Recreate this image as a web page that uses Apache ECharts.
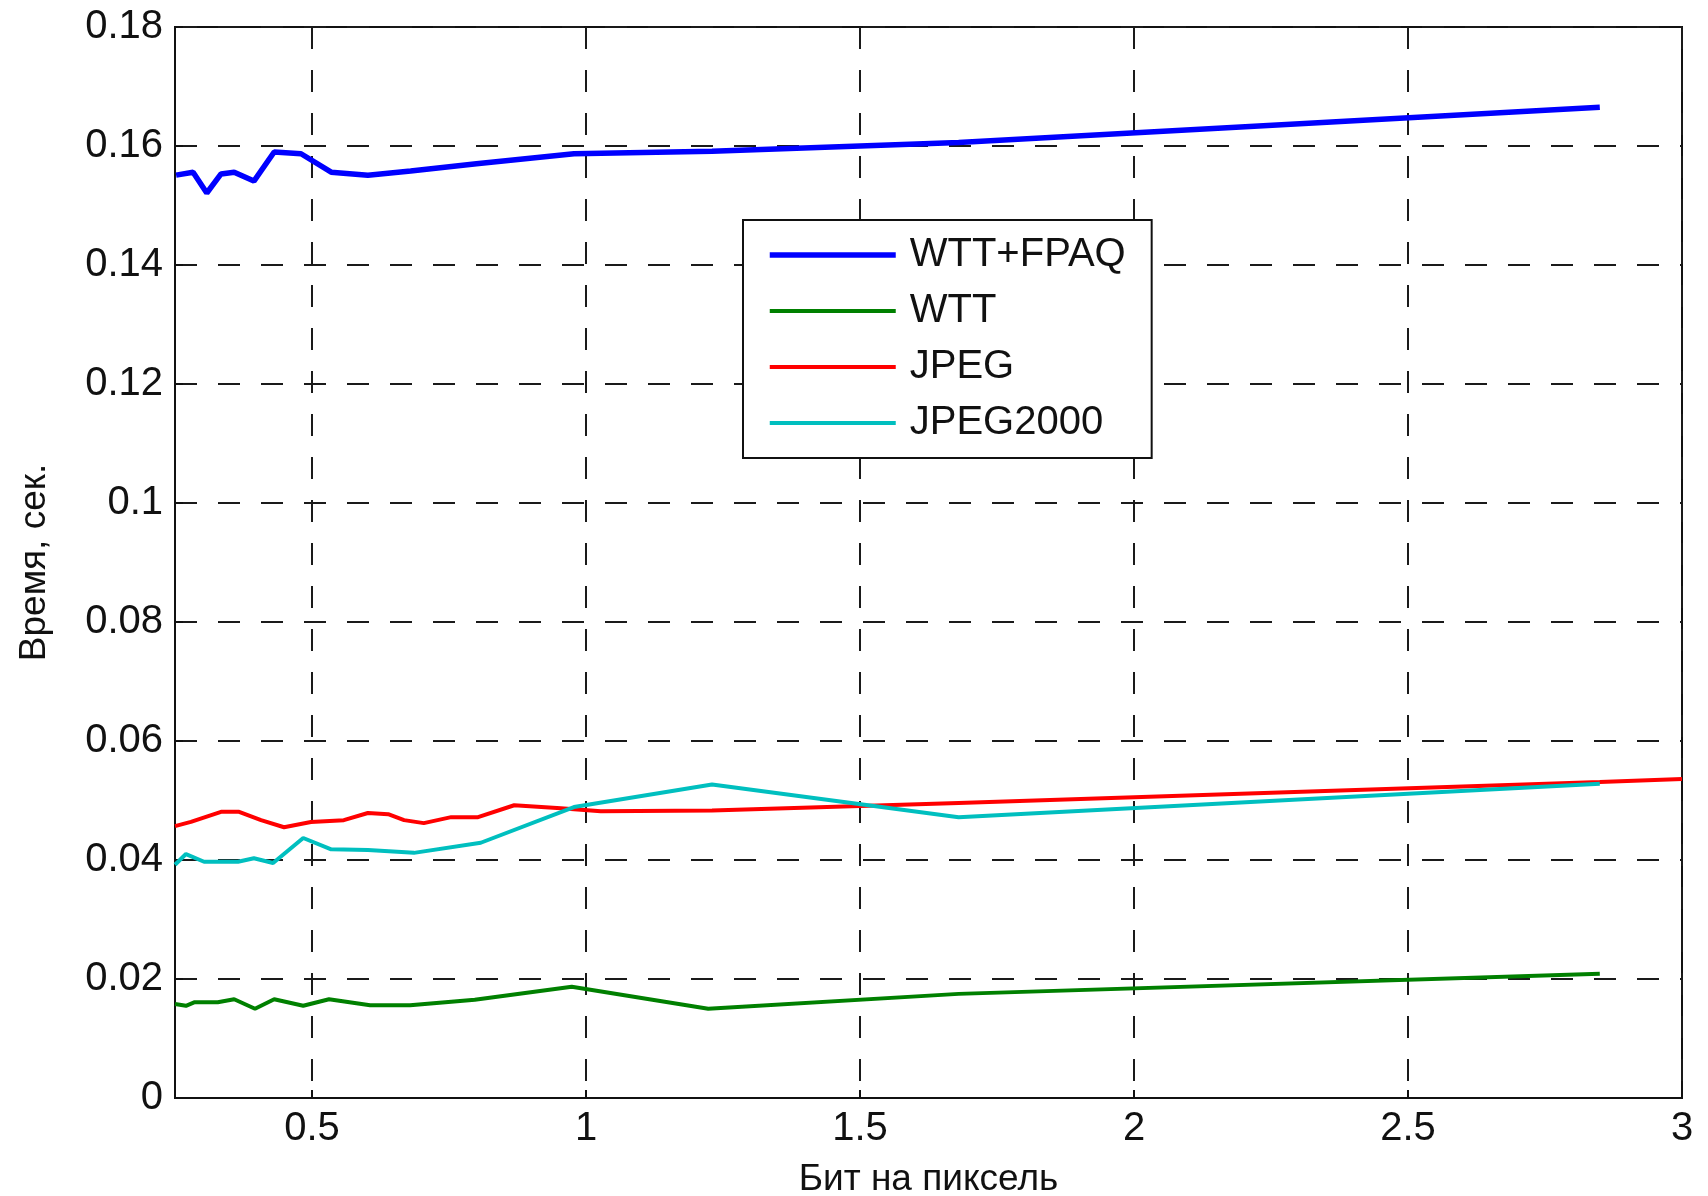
<!DOCTYPE html>
<html>
<head>
<meta charset="utf-8">
<script src="https://cdn.jsdelivr.net/npm/echarts@6/dist/echarts.min.js"></script>
<style>
  html, body { margin: 0; padding: 0; background: #fff; }
  #chart { width: 1708px; height: 1196px; }
</style>
</head>
<body>
<div id="chart"></div>
<script>
// bits per pixel (x) and time in seconds (y)
var wttFpaqX = [0.252, 0.283, 0.308, 0.334, 0.358, 0.394, 0.431, 0.48, 0.535, 0.602, 0.68, 0.8, 0.978, 1.23, 1.68, 2.85];
var wttFpaqY = [0.1551, 0.1556, 0.1521, 0.1553, 0.1556, 0.1541, 0.159, 0.1587, 0.1556, 0.1551, 0.1558, 0.157, 0.1587, 0.1591, 0.1606, 0.1665];

var wttX = [0.25, 0.27, 0.286, 0.328, 0.358, 0.396, 0.431, 0.484, 0.531, 0.606, 0.679, 0.797, 0.974, 1.223, 1.68, 2.85];
var wttY = [0.0158, 0.0155, 0.0161, 0.0161, 0.0166, 0.015, 0.0166, 0.0155, 0.0166, 0.0156, 0.0156, 0.0165, 0.0187, 0.015, 0.0175, 0.0209];

var jpegX = [0.25, 0.279, 0.334, 0.367, 0.407, 0.449, 0.498, 0.558, 0.602, 0.639, 0.668, 0.704, 0.754, 0.803, 0.869, 0.954, 1.027, 1.23, 1.68, 2.85, 3.0];
var jpegY = [0.0457, 0.0464, 0.0481, 0.0481, 0.0467, 0.0455, 0.0464, 0.0467, 0.0479, 0.0477, 0.0467, 0.0462, 0.0472, 0.0472, 0.0492, 0.0487, 0.0482, 0.0483, 0.0496, 0.0531, 0.0536];

var jpeg2000X = [0.25, 0.27, 0.303, 0.365, 0.394, 0.429, 0.484, 0.535, 0.602, 0.686, 0.808, 0.978, 1.23, 1.68, 2.85];
var jpeg2000Y = [0.0392, 0.041, 0.0397, 0.0397, 0.0403, 0.0395, 0.0437, 0.0418, 0.0417, 0.0412, 0.0429, 0.0489, 0.0527, 0.0472, 0.0528];

var xTicks = [0.5, 1, 1.5, 2, 2.5, 3];
var seriesNames = ['WTT+FPAQ', 'WTT', 'JPEG', 'JPEG2000'];

function zip(xs, ys) {
    return xs.map(function (x, i) { return [x, ys[i]]; });
}

var font = 'Liberation Sans, Arial, sans-serif';
var gridLine = {
    show: true,
    lineStyle: { color: '#1a1a1a', width: 2, type: [22, 21] }
};

function lineSeries(name, data, color, width) {
    return {
        name: name,
        type: 'line',
        data: data,
        symbol: 'none',
        smooth: false,
        lineStyle: { color: color, width: width },
        itemStyle: { color: color }
    };
}

var option = {
    backgroundColor: '#fff',
    animation: false,
    grid: {
        left: 175, right: 26, top: 27, bottom: 98,
        outerBoundsMode: 'none',
        containLabel: false,
        show: true,
        borderColor: '#111',
        borderWidth: 2
    },
    legend: {
        orient: 'vertical',
        left: 743,
        top: 220,
        data: seriesNames,
        backgroundColor: '#fff',
        borderColor: '#111',
        borderWidth: 2,
        padding: [15, 26, 15, 24],
        itemWidth: 126,
        itemHeight: 14,
        itemGap: 16,
        itemStyle: { opacity: 0 },
        lineStyle: { width: 'inherit' },
        textStyle: {
            fontFamily: font,
            fontSize: 40,
            color: '#111',
            lineHeight: 40,
            padding: [0, 0, 0, 9]
        }
    },
    xAxis: {
        type: 'value',
        min: 0.25,
        max: 3,
        name: 'Бит на пиксель',
        nameLocation: 'middle',
        nameGap: 63,
        nameTextStyle: { fontFamily: font, fontSize: 37, color: '#111' },
        axisLine: { show: true, lineStyle: { color: '#111', width: 2 } },
        axisTick: { show: true, inside: true, length: 8, customValues: xTicks, lineStyle: { color: '#111', width: 2 } },
        axisLabel: { customValues: xTicks, fontFamily: font, fontSize: 40, color: '#111', margin: 11 },
        splitLine: gridLine
    },
    yAxis: {
        type: 'value',
        min: 0,
        max: 0.18,
        interval: 0.02,
        name: 'Время, сек.',
        nameLocation: 'middle',
        nameGap: 122,
        nameTextStyle: { fontFamily: font, fontSize: 37, color: '#111' },
        axisLine: { show: true, lineStyle: { color: '#111', width: 2 } },
        axisTick: { show: true, inside: true, length: 8, lineStyle: { color: '#111', width: 2 } },
        axisLabel: { fontFamily: font, fontSize: 40, color: '#111', margin: 12 },
        splitLine: gridLine
    },
    series: [
        lineSeries(seriesNames[0], zip(wttFpaqX, wttFpaqY), '#0000ff', 5.5),
        lineSeries(seriesNames[1], zip(wttX, wttY), '#008000', 4),
        lineSeries(seriesNames[2], zip(jpegX, jpegY), '#ff0000', 4),
        lineSeries(seriesNames[3], zip(jpeg2000X, jpeg2000Y), '#00bfbf', 4)
    ]
};

var chart = echarts.init(document.getElementById('chart'));
chart.setOption(option);
</script>
</body>
</html>
